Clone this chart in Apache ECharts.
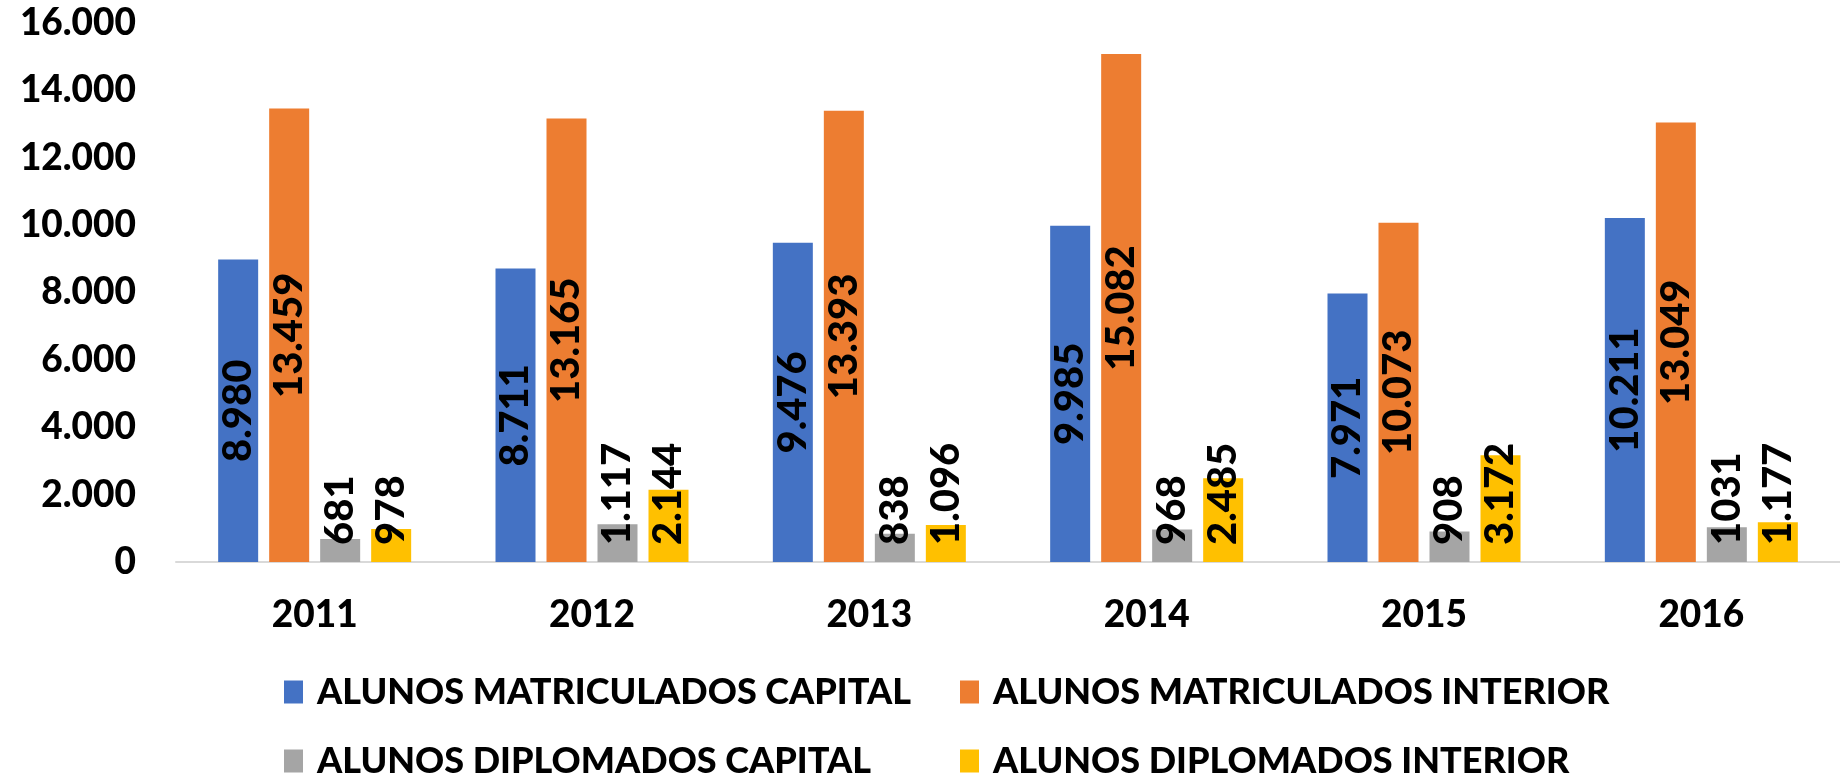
<!DOCTYPE html>
<html>
<head>
    <meta charset="utf-8" />
    <title>Alunos matriculados e diplomados</title>
    <script src="https://cdn.jsdelivr.net/npm/echarts@6/dist/echarts.min.js"></script>
    <style>
        html, body { margin: 0; padding: 0; background: #fff; }
    </style>
</head>
<body>
    <div style="width:1840px;height:777px;" id="echart"></div>
</body>
</html>
<script>
    var anos = ['2011', '2012', '2013', '2014', '2015', '2016'];
    var matriculadosCapital = [8980, 8711, 9476, 9985, 7971, 10211];
    var matriculadosInterior = [13459, 13165, 13393, 15082, 10073, 13049];
    var diplomadosCapital = [681, 1117, 838, 968, 908, 1031];
    var diplomadosInterior = [978, 2144, 1096, 2485, 3172, 1177];
    // o rótulo de 2016 aparece sem ponto no original
    var diplomadosCapitalRotulos = ['681', '1.117', '838', '968', '908', '1031'];

    var nomes = [
        'ALUNOS MATRICULADOS CAPITAL',
        'ALUNOS MATRICULADOS INTERIOR',
        'ALUNOS DIPLOMADOS CAPITAL',
        'ALUNOS DIPLOMADOS INTERIOR'
    ];
    var cores = ['#4472C4', '#ED7D31', '#A5A5A5', '#FFC000'];
    var fonte = 'Lato, "Liberation Sans", sans-serif';
    var peso = 900;

    function milhar(v) {
        return String(v).replace(/\B(?=(\d{3})+(?!\d))/g, '.');
    }

    var rotuloMeio = {
        show: true,
        position: 'inside',
        rotate: 90,
        color: '#000',
        fontFamily: fonte,
        fontWeight: peso,
        fontSize: 40,
        formatter: function (p) { return milhar(p.value); }
    };
    var rotuloBase = {
        show: true,
        position: 'insideBottom',
        rotate: 90,
        align: 'left',
        verticalAlign: 'middle',
        distance: 17,
        color: '#000',
        fontFamily: fonte,
        fontWeight: peso,
        fontSize: 40,
        formatter: function (p) { return milhar(p.value); }
    };

    var myChart = echarts.init(document.getElementById('echart'));

    // uma legenda por item, em duas colunas alinhadas como no original
    var posLegenda = [[284, 674], [960, 674], [284, 743], [960, 743]];
    var legendas = nomes.map(function (n, i) {
        return {
            left: posLegenda[i][0],
            top: posLegenda[i][1],
            padding: 0,
            data: [n],
            icon: 'rect',
            itemWidth: 19,
            itemHeight: 23,
            textStyle: {
                fontFamily: fonte,
                fontWeight: peso,
                fontSize: 36,
                color: '#000',
                padding: [0, 0, 0, 9]
            }
        };
    });

    var option = {
        animation: false,
        color: cores,
        grid: { left: 176, right: -22, top: 23, bottom: 215 },
        legend: legendas,
        xAxis: {
            type: 'category',
            data: anos,
            axisLine: { lineStyle: { color: '#D9D9D9', width: 2 } },
            axisTick: { show: false },
            axisLabel: {
                margin: 35,
                color: '#000',
                fontFamily: fonte,
                fontWeight: peso,
                fontSize: 37
            }
        },
        yAxis: {
            type: 'value',
            min: 0,
            max: 16000,
            interval: 2000,
            splitLine: { show: false },
            axisLine: { show: false },
            axisTick: { show: false },
            axisLabel: {
                margin: 40,
                color: '#000',
                fontFamily: fonte,
                fontWeight: peso,
                fontSize: 37,
                formatter: milhar
            }
        },
        series: [
            {
                name: nomes[0], type: 'bar', data: matriculadosCapital,
                barWidth: 40, barGap: '27.5%', label: rotuloMeio
            },
            {
                name: nomes[1], type: 'bar', data: matriculadosInterior,
                barWidth: 40, barGap: '27.5%', label: rotuloMeio
            },
            {
                name: nomes[2], type: 'bar', data: diplomadosCapital,
                barWidth: 40, barGap: '27.5%',
                label: Object.assign({}, rotuloBase, {
                    formatter: function (p) { return diplomadosCapitalRotulos[p.dataIndex]; }
                })
            },
            {
                name: nomes[3], type: 'bar', data: diplomadosInterior,
                barWidth: 40, barGap: '27.5%', label: rotuloBase
            }
        ]
    };
    myChart.setOption(option);
</script>
